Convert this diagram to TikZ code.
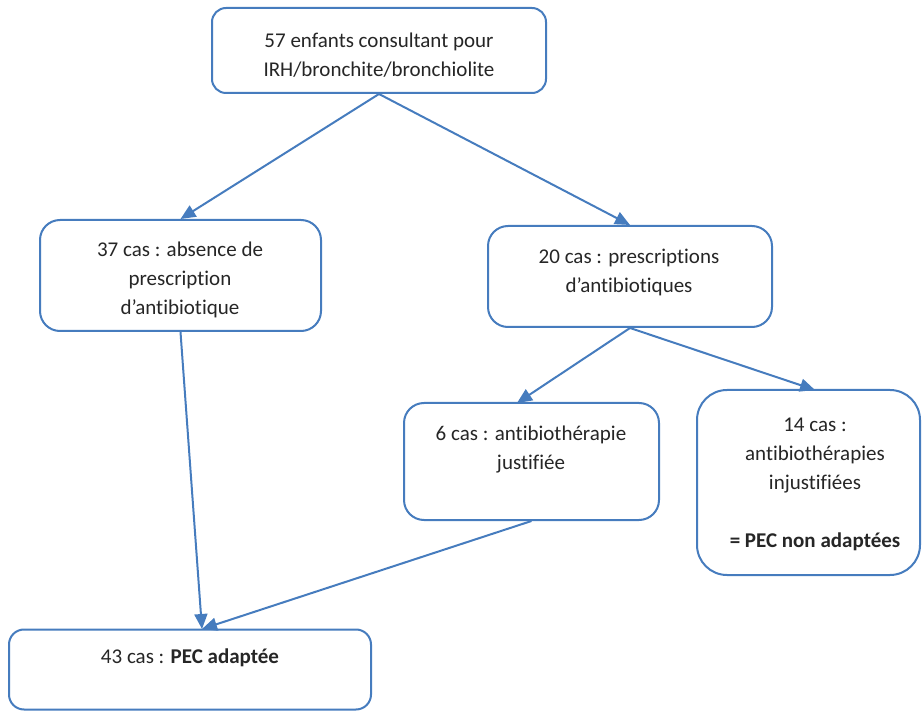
\documentclass[tikz,border=0pt]{standalone}
\usepackage{fontspec}
\setmainfont[Ligatures={NoCommon}]{Carlito}
\usetikzlibrary{arrows.meta}
\definecolor{boxblue}{RGB}{70,124,190}
\definecolor{txt}{RGB}{38,38,38}
\tikzset{
  box/.style={draw=boxblue, line width=2pt, fill=white, inner sep=0pt},
  lbl/.style={align=center, text=txt, font=\fontsize{21}{29}\selectfont, inner sep=0pt},
  conn/.style={draw=boxblue, line width=2pt, -{Triangle[length=15pt,width=13pt]}}
}
\begin{document}
\begin{tikzpicture}[x=1pt,y=-1pt]
\useasboundingbox (0,0) rectangle (922,711);
% boxes
\node[box, rounded corners=14pt, minimum width=334pt, minimum height=85pt] (top) at (379,50.5) {};
\node[box, rounded corners=20pt, minimum width=281pt, minimum height=111pt] (left) at (180.5,275.5) {};
\node[box, rounded corners=20pt, minimum width=284pt, minimum height=101pt] (right) at (630,276.5) {};
\node[box, rounded corners=20pt, minimum width=255pt, minimum height=117pt] (six) at (531.5,461.5) {};
\node[box, rounded corners=30pt, minimum width=223pt, minimum height=185pt] (fourteen) at (808.5,482.5) {};
\node[box, rounded corners=15pt, minimum width=362pt, minimum height=80pt] (bottom) at (190,669.5) {};
% texts
\node[lbl] (ttop) at (379,55) {57 enfants consultant pour\\IRH/bronchite/bronchiolite};
\node[lbl] (tleft) at (180,280) {37 cas : absence de\\prescription\\d’antibiotique};
\node[lbl] (tright) at (629,272) {20 cas : prescriptions\\d’antibiotiques};
\node[lbl] (tsix) at (531,450) {6 cas : antibiothérapie\\justifiée};
\node[lbl] (tfourteen) at (815,484) {14 cas :\\antibiothérapies\\injustifiées\\[29pt]\textbf{= PEC non adaptées}};
\node[lbl] (tbottom) at (190,658) {43 cas : \textbf{PEC adaptée}};
% connectors
\coordinate (sixin) at (517,403);
\coordinate (botin) at (202,629);
\coordinate (fourin) at (815,390);
\draw[conn] (top.south) -- (left.north);
\draw[conn] (top.south) -- (right.north);
\draw[conn] (right.south) -- (sixin);
\draw[conn] (right.south) -- (fourin);
\draw[conn] (left.south) -- (botin);
\draw[conn] (six.south) -- (botin);
\end{tikzpicture}
\end{document}
